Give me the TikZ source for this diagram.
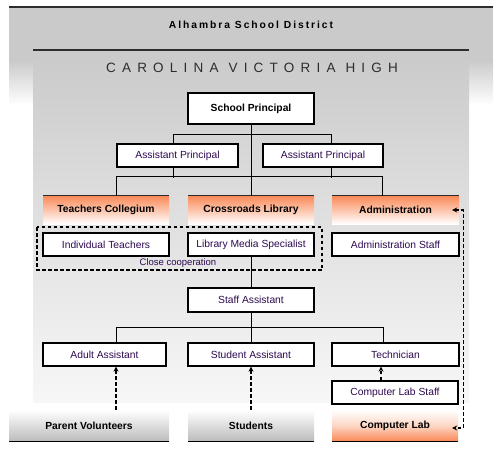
\documentclass[tikz,border=0pt]{standalone}
\usepackage{fontspec}
\setmainfont{Liberation Sans}
\usetikzlibrary{arrows.meta}
\definecolor{panelgray}{RGB}{202,202,202}
\definecolor{panelmid}{RGB}{226,226,226}
\definecolor{panellight}{RGB}{247,247,247}
\definecolor{boxtext}{RGB}{45,10,80}
\definecolor{orangetop}{RGB}{249,138,88}
\definecolor{linedark}{RGB}{45,45,45}
\definecolor{bottomgray}{RGB}{188,188,188}
\begin{document}
\begin{tikzpicture}[x=1pt,y=-1pt,
  box/.style={draw=black, line width=1.3pt, fill=white, text=boxtext,
    font=\fontsize{10.3}{12}\selectfont, inner sep=0pt, minimum height=23pt},
  headbox/.style={top color=orangetop, bottom color=white, middle color=orangetop!50!white,
    font=\bfseries\fontsize{10.3}{12}\selectfont, inner sep=0pt, minimum height=28pt},
  graybase/.style={top color=white, bottom color=bottomgray,
    font=\bfseries\fontsize{10.3}{12}\selectfont, inner sep=0pt, minimum height=31pt},
  orangebase/.style={top color=white, bottom color=orangetop, middle color=orangetop!35!white,
    font=\bfseries\fontsize{10.3}{12}\selectfont, inner sep=0pt, minimum height=31pt},
  conn/.style={draw=black, line width=1pt},
  dasharr/.style={draw=black, line width=1.2pt, dash pattern=on 3.5pt off 2.5pt,
    -{Stealth[length=5pt,width=5pt]}},
  dashbox/.style={draw=black, line width=1.2pt, dash pattern=on 3.5pt off 2.5pt}
]
\useasboundingbox (0,0) rectangle (500,450);
% outer district panel
\fill[panelgray] (9,7) rectangle (493,60);
\shade[top color=panelgray, bottom color=white] (9,60) rectangle (493,105);
\draw[linedark, line width=1.3pt] (9,7) -- (493,7);
\node[font=\bfseries\fontsize{10.3}{12}\selectfont\addfontfeature{LetterSpace=19}] (district) at (251,25) {Alhambra School District};
% inner school panel
\shade[top color=panelgray, middle color=panelmid, bottom color=panellight] (33,50) rectangle (469,402);
\draw[linedark, line width=1.3pt] (33,50) -- (469,50);
\node[text=linedark, font=\fontsize{13.5}{15}\selectfont\addfontfeature{LetterSpace=46}] (school) at (252,68) {CAROLINA VICTORIA HIGH};

% close cooperation group
\draw[dashbox] (37,227) rectangle (322,270);
\node[text=boxtext, font=\fontsize{9.5}{11}\selectfont, inner sep=0pt] (coop) at (178,263) {Close cooperation};

% nodes
\node[box, font=\bfseries\fontsize{10.3}{12}\selectfont, text=black, minimum width=126pt, minimum height=31pt] (sp) at (251,108.5) {School Principal};
\node[box, minimum width=121pt] (ap1) at (177.5,155.5) {Assistant Principal};
\node[box, minimum width=120pt] (ap2) at (323,155.5) {Assistant Principal};

\node[headbox, minimum width=126pt] (tc) at (106,210) {Teachers Collegium};
\node[headbox, minimum width=126pt] (cl) at (251,210) {Crossroads Library};
\node[headbox, minimum width=127pt] (ad) at (395.5,210) {Administration};
\foreach \n in {tc,cl,ad}{\draw[linedark, line width=1pt] (\n.north west) -- (\n.north east);}

\node[box, minimum width=126pt] (it) at (106,244.5) {Individual Teachers};
\node[box, minimum width=126pt] (lms) at (251,244.5) {Library Media Specialist};
\node[box, minimum width=127pt] (as) at (395.5,244.5) {Administration Staff};

\node[box, minimum width=126pt, minimum height=24pt] (sa) at (251,300) {Staff Assistant};

\node[box, minimum width=123pt] (aa) at (104.5,354.5) {Adult Assistant};
\node[box, minimum width=126pt] (sta) at (251,354.5) {Student Assistant};
\node[box, minimum width=127pt] (te) at (395.5,354.5) {Technician};
\node[box, minimum width=126pt] (cls) at (395,392.5) {Computer Lab Staff};

\node[graybase, minimum width=160pt] (pv) at (89,425.5) {Parent Volunteers};
\node[graybase, minimum width=126pt] (st) at (251,425.5) {Students};
\node[orangebase, minimum width=126pt] (clab) at (395,425.5) {Computer Lab};
\foreach \n in {pv,st,clab}{\draw[black, line width=1.3pt] (\n.south west) -- (\n.south east);}

% tree connectors
\draw[conn] (sp.south) -- (cl.north);
\draw[conn] ([xshift=-4.5pt]ap1.north) -- ++(0,-9) -| ([xshift=8pt]ap2.north);
\draw[conn] ([xshift=-4.5pt]ap1.south) -- ++(0,10);
\draw[conn] ([xshift=8pt]ap2.south) -- ++(0,10);
\draw[conn] ([xshift=10pt]tc.north) -- ++(0,-19) -| ([xshift=-13.5pt]ad.north);
\draw[conn] (lms.south) -- (sa.north);
\draw[conn] (sa.south) -- (sta.north);
\draw[conn] ([xshift=11.5pt]aa.north) -- ++(0,-15) -| ([xshift=-12.5pt]te.north);

% dashed arrows
\draw[dasharr] ([xshift=27pt]pv.north) -- ([xshift=11.5pt]aa.south);
\draw[dasharr] (st.north) -- (sta.south);
\draw[dasharr] ([xshift=-14pt]cls.north) -- ([xshift=-14pt]cls.north |- te.south);
\draw[dasharr, {Stealth[length=5pt,width=5pt]}-{Stealth[length=5pt,width=5pt]}]
  ([xshift=-7pt]ad.east) -- ++(11,0) |- ([xshift=-6pt,yshift=-2.5pt]clab.east);
\end{tikzpicture}
\end{document}
